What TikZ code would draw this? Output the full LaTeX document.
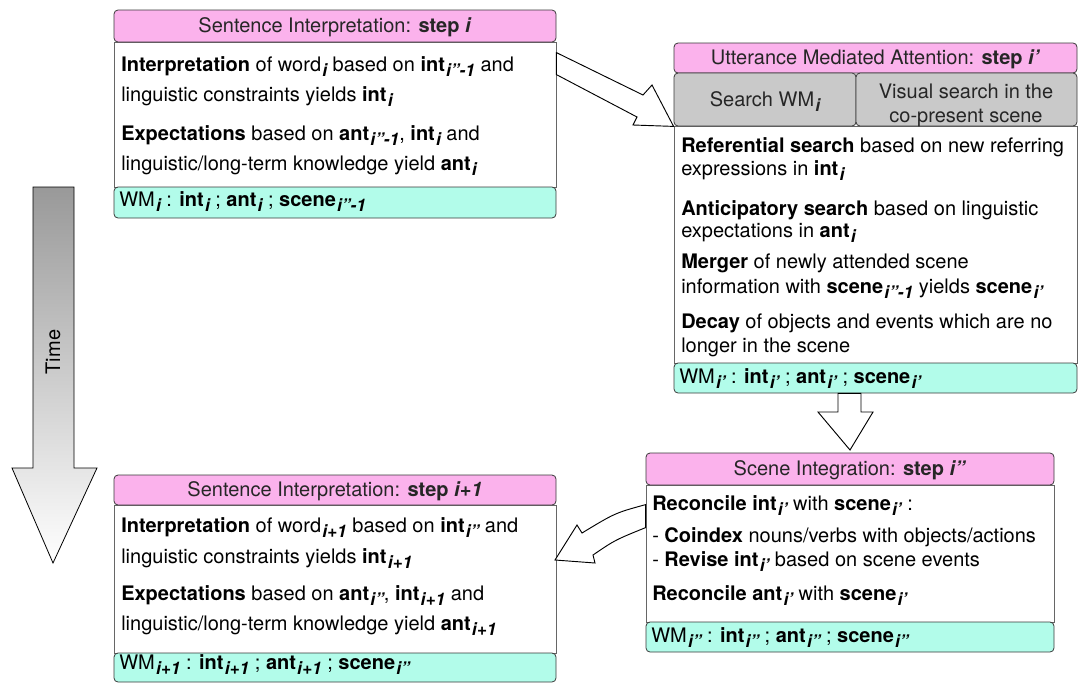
\documentclass[tikz,border=0pt]{standalone}
\usepackage{fontspec}
\setmainfont{TeX Gyre Heros}
\usetikzlibrary{fit,calc}
\definecolor{hdrpink}{HTML}{FBB2EC}
\definecolor{wmcyan}{HTML}{B2FCEA}
\definecolor{srchgray}{HTML}{C9C9C9}
\definecolor{edgec}{HTML}{3A3A3A}
\newcommand\sbx[1]{\kern0.06em\raisebox{-0.55ex}{\fontsize{13}{13}\selectfont\bfseries\itshape #1}}
\begin{document}
\begin{tikzpicture}[x=0.75pt,y=-0.75pt,
  hdr/.style={draw=edgec, fill=hdrpink, rounded corners=3pt, inner sep=0pt, line width=0.6pt},
  wmbar/.style={draw=edgec, fill=wmcyan, rounded corners=3pt, inner sep=0pt, line width=0.6pt},
  bodybox/.style={draw=black!60, fill=white, inner sep=0pt, line width=0.6pt},
  srch/.style={draw=edgec, fill=srchgray, rounded corners=3pt, inner sep=0pt, line width=0.6pt},
  ctxt/.style={anchor=base, inner sep=0pt, text=black!85, font=\fontsize{15}{17}\selectfont},
  txt/.style={anchor=base west, inner sep=0pt, font=\fontsize{15}{17}\selectfont},
  fat/.style={draw=black, fill=white, line width=0.7pt, line join=miter}]
\useasboundingbox (0,0) rectangle (1078,683);

% ---------- Time arrow ----------
\shadedraw[top color=black!40, bottom color=white, draw=black, line width=0.6pt]
  (33,187) -- (74,187) -- (74,468) -- (97,468) -- (53,563) -- (12,468) -- (33,468) -- cycle;
\node[rotate=90, font=\fontsize{15}{17}\selectfont] (time) at (53,352) {Time};

% ---------- Box 1 ----------
\node[bodybox, fit={(114,42)(556,187)}] (b1) {};
\node[hdr, fit={(114,10)(556,42)}] (h1) {};
\node[ctxt] (h1t) at ($(h1.center)+(0,6)$) {Sentence Interpretation: \textbf{step \textit{i}}};
\node[wmbar, fit={(114,187)(556,218)}] (w1) {};
\node[txt] (t11) at (121,71) {\textbf{Interpretation} of word\sbx{i} based on \textbf{int}\sbx{i''-1} and};
\node[txt] (t12) at (121,101) {linguistic constraints yields \textbf{int}\sbx{i}};
\node[txt] (t13) at (121,140) {\textbf{Expectations} based on \textbf{ant}\sbx{i''-1}, \textbf{int}\sbx{i} and};
\node[txt] (t14) at (121,170) {linguistic/long-term knowledge yield \textbf{ant}\sbx{i}};
\node[txt] (t15) at (119,206) {WM\sbx{i} : \textbf{int}\sbx{i} ; \textbf{ant}\sbx{i} ; \textbf{scene}\sbx{i''-1}};

% ---------- Box 2 ----------
\node[bodybox, fit={(674,126)(1077,363)}] (b2) {};
\node[hdr, fit={(674,43)(1077,73)}] (h2) {};
\node[ctxt] (h2t) at ($(h2.center)+(0,6)$) {Utterance Mediated Attention: \textbf{step \textit{i'}}};
\node[srch, fit={(674,73)(856,126)}] (g1) {};
\node[srch, fit={(856,73)(1077,126)}] (g2) {};
\node[ctxt] (g1t) at (765,106) {Search WM\sbx{i}};
\node[ctxt] (g2t) at (966,98) {Visual search in the};
\node[ctxt] (g2u) at (966,122) {co-present scene};
\node[wmbar, fit={(674,363)(1077,393)}] (w2) {};
\node[txt] (t21) at (681,152) {\textbf{Referential search} based on new referring};
\node[txt] (t22) at (681,175) {expressions in \textbf{int}\sbx{i}};
\node[txt] (t23) at (681,215) {\textbf{Anticipatory search} based on linguistic};
\node[txt] (t24) at (681,237) {expectations in \textbf{ant}\sbx{i}};
\node[txt] (t25) at (681,268) {\textbf{Merger} of newly attended scene};
\node[txt] (t26) at (681,293) {information with \textbf{scene}\sbx{i''-1} yields \textbf{scene}\sbx{i'}};
\node[txt] (t27) at (681,328) {\textbf{Decay} of objects and events which are no};
\node[txt] (t28) at (681,352) {longer in the scene};
\node[txt] (t29) at (679,383) {WM\sbx{i'} : \textbf{int}\sbx{i'} ; \textbf{ant}\sbx{i'} ; \textbf{scene}\sbx{i'}};

% ---------- Box 3 ----------
\node[bodybox, fit={(646,485)(1054,622)}] (b3) {};
\node[hdr, fit={(646,453)(1054,485)}] (h3) {};
\node[ctxt] (h3t) at ($(h3.center)+(0,6)$) {Scene Integration: \textbf{step \textit{i''}}};
\node[wmbar, fit={(646,622)(1054,652)}] (w3) {};
\node[txt] (t31) at (652,510) {\textbf{Reconcile int}\sbx{i'} with \textbf{scene}\sbx{i'} :};
\node[txt] (t32) at (652,542) {- \textbf{Coindex} nouns/verbs with objects/actions};
\node[txt] (t33) at (652,566) {- \textbf{Revise int}\sbx{i'} based on scene events};
\node[txt] (t34) at (652,600) {\textbf{Reconcile ant}\sbx{i'} with \textbf{scene}\sbx{i'}};
\node[txt] (t35) at (651,642) {WM\sbx{i''} : \textbf{int}\sbx{i''} ; \textbf{ant}\sbx{i''} ; \textbf{scene}\sbx{i''}};

% ---------- Box 4 ----------
\node[bodybox, fit={(114,505)(556,653)}] (b4) {};
\node[hdr, fit={(114,475)(556,505)}] (h4) {};
\node[ctxt] (h4t) at ($(h4.center)+(0,6)$) {Sentence Interpretation: \textbf{step \textit{i+1}}};
\node[wmbar, fit={(114,653)(556,682)}] (w4) {};
\node[txt] (t41) at (121,532) {\textbf{Interpretation} of word\sbx{i+1} based on \textbf{int}\sbx{i''} and};
\node[txt] (t42) at (121,563) {linguistic constraints yields \textbf{int}\sbx{i+1}};
\node[txt] (t43) at (121,600) {\textbf{Expectations} based on \textbf{ant}\sbx{i''}, \textbf{int}\sbx{i+1} and};
\node[txt] (t44) at (121,630) {linguistic/long-term knowledge yield \textbf{ant}\sbx{i+1}};
\node[txt] (t45) at (119,669) {WM\sbx{i+1} : \textbf{int}\sbx{i+1} ; \textbf{ant}\sbx{i+1} ; \textbf{scene}\sbx{i''}};

% ---------- Fat arrows (connectors) ----------
% Box 1 -> Box 2
\draw[fat] ($(b1.north east)+(0,11)$) -- (643,95) -- (652,85) -- (g1.south west) -- (633,125) -- (637,117) -- ($(b1.north east)+(0,33)$) -- cycle;
% Box 2 -> Box 3
\coordinate (tip2) at (850,450);
\draw[fat] (w2.south -| 838,0) -- (838,412) -- (818,412) -- (tip2) -- (873,412) -- (861,412) -- (w2.south -| 861,0) -- cycle;
% Box 3 -> Box 4
\coordinate (tip3) at (555,560);
\draw[fat] ($(b3.north west)+(0,20)$) .. controls (615,513) .. (582,533) -- (577,525) -- (tip3) -- (595,563) -- (593,555) .. controls (615,540) .. ($(b3.north west)+(0,43)$) -- cycle;
\end{tikzpicture}
\end{document}
